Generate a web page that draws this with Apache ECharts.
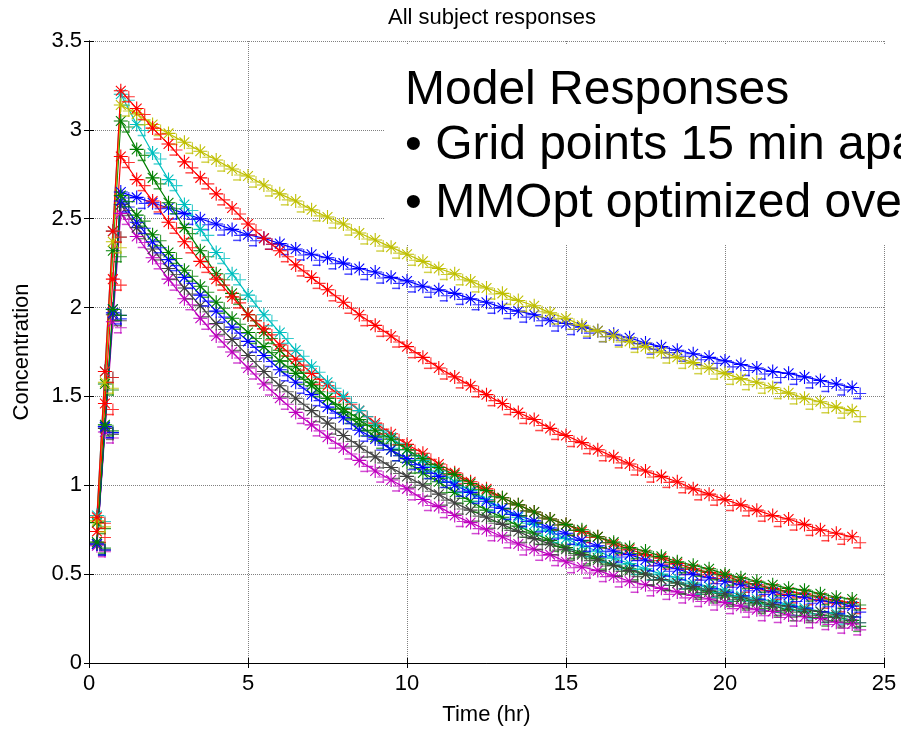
<!DOCTYPE html>
<html>
<head>
<meta charset="utf-8">
<script src="https://cdn.jsdelivr.net/npm/echarts@6/dist/echarts.min.js"></script>
<style>
  html, body { margin: 0; padding: 0; background: #fff; }
  #chart { width: 901px; height: 731px; }
</style>
</head>
<body>
<div id="chart"></div>
<script>
// sample times (hr): infusion points, then every half hour after the peak
const times = [0.25, 0.5, 0.75, 1, 1.5, 2, 2.5, 3, 3.5, 4, 4.5, 5, 5.5, 6, 6.5, 7, 7.5, 8, 8.5, 9, 9.5, 10,
  10.5, 11, 11.5, 12, 12.5, 13, 13.5, 14, 14.5, 15, 15.5, 16, 16.5, 17, 17.5, 18, 18.5, 19, 19.5, 20,
  20.5, 21, 21.5, 22, 22.5, 23, 23.5, 24]

// concentration, one list per subject
const blueSlow = [0.67, 1.33, 1.99, 2.65, 2.62, 2.59, 2.56, 2.53, 2.50, 2.47, 2.44, 2.41, 2.39, 2.36, 2.33, 2.30, 2.28, 2.25, 2.22, 2.20, 2.17, 2.15, 2.12, 2.10, 2.08, 2.05, 2.03, 2.00, 1.98, 1.96, 1.93, 1.91, 1.89, 1.87, 1.85, 1.83, 1.80, 1.78, 1.76, 1.74, 1.72, 1.70, 1.68, 1.66, 1.64, 1.63, 1.61, 1.59, 1.57, 1.55]
const green1 = [0.79, 1.57, 2.32, 3.05, 2.89, 2.73, 2.59, 2.45, 2.32, 2.19, 2.08, 1.96, 1.86, 1.76, 1.67, 1.58, 1.49, 1.41, 1.34, 1.27, 1.20, 1.13, 1.07, 1.02, 0.96, 0.91, 0.86, 0.82, 0.77, 0.73, 0.69, 0.65, 0.62, 0.59, 0.55, 0.53, 0.50, 0.47, 0.45, 0.42, 0.40, 0.38, 0.36, 0.34, 0.32, 0.30, 0.29, 0.27, 0.26, 0.24]
const red2 = [0.74, 1.46, 2.16, 2.85, 2.72, 2.60, 2.48, 2.37, 2.26, 2.16, 2.06, 1.96, 1.88, 1.79, 1.71, 1.63, 1.56, 1.49, 1.42, 1.35, 1.29, 1.23, 1.18, 1.12, 1.07, 1.02, 0.98, 0.93, 0.89, 0.85, 0.81, 0.78, 0.74, 0.71, 0.67, 0.64, 0.61, 0.59, 0.56, 0.53, 0.51, 0.49, 0.46, 0.44, 0.42, 0.40, 0.39, 0.37, 0.35, 0.34]
const cyan = [0.83, 1.64, 2.43, 3.20, 3.03, 2.87, 2.72, 2.58, 2.44, 2.31, 2.19, 2.07, 1.96, 1.86, 1.76, 1.67, 1.58, 1.50, 1.42, 1.34, 1.27, 1.20, 1.14, 1.08, 1.02, 0.97, 0.92, 0.87, 0.82, 0.78, 0.74, 0.70, 0.66, 0.63, 0.59, 0.56, 0.53, 0.50, 0.48, 0.45, 0.43, 0.41, 0.38, 0.36, 0.35, 0.33, 0.31, 0.29, 0.28, 0.26]
const magenta = [0.66, 1.30, 1.92, 2.53, 2.40, 2.28, 2.16, 2.05, 1.94, 1.84, 1.75, 1.66, 1.57, 1.49, 1.41, 1.34, 1.27, 1.21, 1.14, 1.08, 1.03, 0.98, 0.92, 0.88, 0.83, 0.79, 0.75, 0.71, 0.67, 0.64, 0.61, 0.57, 0.54, 0.52, 0.49, 0.46, 0.44, 0.42, 0.40, 0.38, 0.36, 0.34, 0.32, 0.30, 0.29, 0.27, 0.26, 0.25, 0.23, 0.22]
const yellow = [0.80, 1.58, 2.37, 3.14, 3.09, 3.03, 2.98, 2.93, 2.88, 2.83, 2.78, 2.74, 2.69, 2.64, 2.60, 2.55, 2.51, 2.47, 2.42, 2.38, 2.34, 2.30, 2.26, 2.22, 2.19, 2.15, 2.11, 2.08, 2.04, 2.01, 1.97, 1.94, 1.90, 1.87, 1.84, 1.81, 1.78, 1.75, 1.72, 1.69, 1.66, 1.63, 1.60, 1.58, 1.55, 1.52, 1.49, 1.47, 1.44, 1.42]
const gray = [0.67, 1.32, 1.96, 2.58, 2.45, 2.33, 2.22, 2.11, 2.01, 1.91, 1.82, 1.73, 1.64, 1.56, 1.49, 1.42, 1.35, 1.28, 1.22, 1.16, 1.10, 1.05, 1.00, 0.95, 0.90, 0.86, 0.82, 0.78, 0.74, 0.70, 0.67, 0.64, 0.61, 0.58, 0.55, 0.52, 0.50, 0.47, 0.45, 0.43, 0.41, 0.39, 0.37, 0.35, 0.33, 0.32, 0.30, 0.29, 0.27, 0.26]
const blueFast = [0.67, 1.33, 1.97, 2.60, 2.48, 2.37, 2.27, 2.17, 2.07, 1.98, 1.89, 1.81, 1.73, 1.65, 1.58, 1.51, 1.44, 1.38, 1.31, 1.26, 1.20, 1.15, 1.10, 1.05, 1.00, 0.96, 0.91, 0.87, 0.83, 0.80, 0.76, 0.73, 0.69, 0.66, 0.63, 0.61, 0.58, 0.55, 0.53, 0.50, 0.48, 0.46, 0.44, 0.42, 0.40, 0.38, 0.37, 0.35, 0.34, 0.32]
const green2 = [0.68, 1.34, 1.99, 2.63, 2.52, 2.41, 2.31, 2.21, 2.12, 2.03, 1.94, 1.86, 1.78, 1.70, 1.63, 1.56, 1.49, 1.43, 1.37, 1.31, 1.26, 1.20, 1.15, 1.10, 1.06, 1.01, 0.97, 0.93, 0.89, 0.85, 0.81, 0.78, 0.75, 0.71, 0.68, 0.65, 0.63, 0.60, 0.57, 0.55, 0.53, 0.50, 0.48, 0.46, 0.44, 0.42, 0.41, 0.39, 0.37, 0.36]
const redMid = [0.82, 1.64, 2.43, 3.22, 3.12, 3.01, 2.92, 2.82, 2.73, 2.64, 2.56, 2.47, 2.39, 2.32, 2.24, 2.17, 2.10, 2.03, 1.96, 1.90, 1.84, 1.78, 1.72, 1.66, 1.61, 1.56, 1.51, 1.46, 1.41, 1.37, 1.32, 1.28, 1.24, 1.20, 1.16, 1.12, 1.08, 1.05, 1.02, 0.98, 0.95, 0.92, 0.89, 0.86, 0.83, 0.81, 0.78, 0.75, 0.73, 0.71]

const xTicks = [0, 5, 10, 15, 20, 25]
const yTicks = [0, 0.5, 1, 1.5, 2, 2.5, 3, 3.5]

// matlab default colour order, in plotting order
const subjects = [
  [blueSlow, '#0000ff'],
  [green1, '#008000'],
  [red2, '#ff0000'],
  [cyan, '#00bfbf'],
  [magenta, '#bf00bf'],
  [yellow, '#bfbf00'],
  [gray, '#404040'],
  [blueFast, '#0000ff'],
  [green2, '#008000'],
  [redMid, '#ff0000'],
]

const star = 'path://M6,0V12M0,6H12M1.8,1.8L10.2,10.2M1.8,10.2L10.2,1.8'
const plus = 'path://M6,0V12M0,6H12'
const font = 'Liberation Sans, Arial, sans-serif'

// one extra marker layer: symbol, size, pixel offset, opacity
const markerLayers = [
    [plus, 12, [8, 6], 0.8],
    ['rect', [8, 1.5], [5, 11], 0.7],
]

const series = []
subjects.forEach(([vals, color]) => {
    const data = vals.map((v, i) => [times[i], v])
    series.push({
        type: 'line',
        data: data,
        symbol: star,
        symbolSize: 14,
        showAllSymbol: true,
        lineStyle: { color: color, width: 1.2 },
        itemStyle: { color: color, borderColor: color, borderWidth: 1.1 },
        silent: true,
    })
    markerLayers.forEach(([sym, size, offset, op]) => {
        series.push({
            type: 'line',
            data: data,
            symbol: sym,
            symbolSize: size,
            symbolOffset: offset,
            showAllSymbol: true,
            lineStyle: { width: 0, opacity: 0 },
            itemStyle: { color: color, borderColor: color, borderWidth: sym === 'rect' ? 0 : 1.1, opacity: op },
            silent: true,
        })
    })
})

const axisBase = {
    type: 'value',
    axisLine: { show: true, lineStyle: { color: '#000', width: 1 } },
    axisTick: { show: true, inside: true, length: 5, lineStyle: { color: '#000' } },
}

const chart = echarts.init(document.getElementById('chart'))
chart.setOption({
    animation: false,
    backgroundColor: '#fff',
    title: {
        text: 'All subject responses',
        left: 487,
        top: 2,
        textAlign: 'center',
        textStyle: { fontSize: 22, fontWeight: 'normal', color: '#000', fontFamily: font },
    },
    grid: { left: 89, right: 17, top: 41, bottom: 66 },
    xAxis: [
        {
            ...axisBase,
            min: xTicks[0],
            max: xTicks[xTicks.length - 1],
            interval: xTicks[1] - xTicks[0],
            name: 'Time (hr)',
            nameLocation: 'middle',
            nameGap: 41,
            nameTextStyle: { fontSize: 22, color: '#000', fontFamily: font },
            axisLabel: { fontSize: 22, color: '#000', margin: 10, fontFamily: font },
            splitLine: { show: true, lineStyle: { color: '#808080', type: [1, 1], width: 1 } },
        },
        {
            ...axisBase,
            position: 'top',
            min: xTicks[0],
            max: xTicks[xTicks.length - 1],
            interval: xTicks[1] - xTicks[0],
            axisLabel: { show: false },
            splitLine: { show: false },
        },
    ],
    yAxis: [
        {
            ...axisBase,
            min: yTicks[0],
            max: yTicks[yTicks.length - 1],
            interval: yTicks[1] - yTicks[0],
            name: 'Concentration',
            nameLocation: 'middle',
            nameGap: 56,
            nameTextStyle: { fontSize: 22, color: '#000', fontFamily: font },
            axisLabel: { fontSize: 22, color: '#000', margin: 7, fontFamily: font },
            splitLine: { show: true, lineStyle: { color: '#808080', type: [1, 1], width: 1 } },
        },
        {
            ...axisBase,
            position: 'right',
            min: yTicks[0],
            max: yTicks[yTicks.length - 1],
            interval: yTicks[1] - yTicks[0],
            axisLabel: { show: false },
            splitLine: { show: false },
        },
    ],
    graphic: [
        // white text box pasted over the top right of the axes
        { type: 'rect', z: 1, shape: { x: 385, y: 44, width: 516, height: 200 }, style: { fill: '#fff' } },
        { type: 'text', z: 100, x: 405, y: 91, style: { text: 'Model Responses', font: '48px ' + font, fill: '#000', verticalAlign: 'middle' } },
        { type: 'text', z: 100, x: 405, y: 146, style: { text: '\u2022 Grid points 15 min apart', font: '48px ' + font, fill: '#000', verticalAlign: 'middle' } },
        { type: 'text', z: 100, x: 405, y: 204, style: { text: '\u2022 MMOpt optimized over', font: '48px ' + font, fill: '#000', verticalAlign: 'middle' } },
    ],
    series: series,
})
</script>
</body>
</html>
